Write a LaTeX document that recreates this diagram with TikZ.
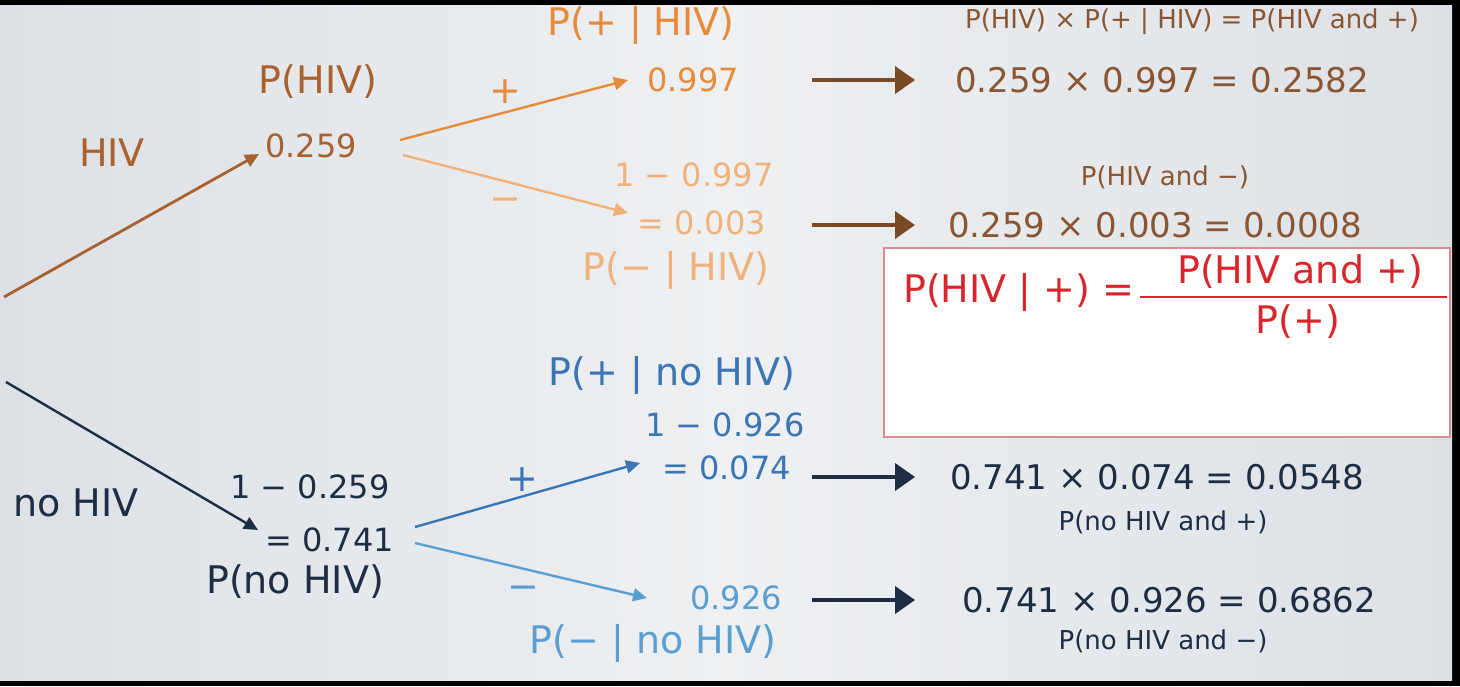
\documentclass[tikz,border=0pt]{standalone}
\usepackage{fontspec}
\setmainfont{DejaVu Sans}
\usetikzlibrary{arrows.meta,positioning}
\definecolor{hivbrown}{HTML}{A8612F}
\definecolor{plusor}{HTML}{E58B3A}
\definecolor{minusor}{HTML}{F0B27A}
\definecolor{resbrown}{HTML}{8A5632}
\definecolor{arrbrown}{HTML}{7B4A25}
\definecolor{navy}{HTML}{1D2D44}
\definecolor{plusbl}{HTML}{3A76B6}
\definecolor{minusbl}{HTML}{5B9FD0}
\definecolor{fracred}{HTML}{D9262C}
\definecolor{boxline}{HTML}{DC8C8C}
\definecolor{bgmid}{HTML}{EEF0F2}
\definecolor{bgedge}{HTML}{DDE1E6}

\begin{document}
\begin{tikzpicture}[x=1pt,y=-1pt,
        num/.style={font=\fontsize{32}{36}\selectfont,inner sep=0pt},
        resnum/.style={font=\fontsize{34}{38}\selectfont,inner sep=0pt},
        lab/.style={font=\fontsize{38}{42}\selectfont,inner sep=0pt},
        sml/.style={font=\fontsize{26}{30}\selectfont,inner sep=0pt},
        frm/.style={font=\fontsize{38}{42}\selectfont,inner sep=0pt,text=fracred},
        br/.style={-{Triangle[length=14pt,width=13pt]},line width=2.4pt},
        res/.style={-{Triangle[length=20pt,width=27pt]},line width=4pt}]
        \useasboundingbox (0,0) rectangle (1460,686);
        \fill[black] (0,0) rectangle (1460,686);
        \shade[left color=bgedge,right color=bgedge,middle color=bgmid] (0,5) rectangle (1452,680);
        % HIV branch
        \coordinate (root1) at (4,297);
        \node[lab,text=hivbrown] (hivlab) at (112,153) {HIV};
        \node[lab,text=hivbrown] (phiv) at (318,82) {P(HIV)};
        \node[num,text=hivbrown,anchor=west] (v259) at (265,146) {0.259};
        \draw[br,hivbrown,line width=2.8pt] (root1) -- ([xshift=-6pt,yshift=-8pt]v259.west);
        \node[lab,text=plusor] (ppos) at (641,25) {P(+ | HIV)};
        \node[num,text=plusor,anchor=west] (v997) at (647,80) {0.997};
        \node[lab,text=plusor] (plus1) at (505,92) {+};
        \draw[br,plusor] ([xshift=43pt,yshift=6pt]v259.east) -- ([xshift=-19pt]v997.west);
        \node[num,text=minusor] (m997) at (694,175) {1 − 0.997};
        \node[num,text=minusor,anchor=west] (v003) at (637,223) {= 0.003};
        \node[lab,text=minusor] (pneg) at (676,270) {P(− | HIV)};
        \node[lab,text=minusor] (minus1) at (505,205) {−};
        \draw[br,minusor] ([xshift=46pt,yshift=-9pt]v259.east) -- ([xshift=-9pt,yshift=10pt]v003.west);
        \node[resnum,text=resbrown,anchor=west] (r1) at (955,80) {0.259 × 0.997 = 0.2582};
        \draw[res,arrbrown,shorten <=165pt,shorten >=40pt] (v997.west |- r1.west) -- (r1.west);
        \node[sml,text=resbrown] (f1) at (1192,22) {P(HIV) × P(+ | HIV) = P(HIV and +)};
        \node[sml,text=resbrown] (f2) at (1165,177) {P(HIV and −)};
        \node[resnum,text=resbrown,anchor=west] (r2) at (948,225) {0.259 × 0.003 = 0.0008};
        \draw[res,arrbrown,shorten <=175pt,shorten >=33pt] (v003.west |- r2.west) -- (r2.west);
        % Bayes box
        \draw[boxline,line width=1.5pt,fill=white] (884,248) rectangle (1450,437);
        \node[frm,anchor=west] (cond) at (903,292) {P(HIV | +) =};
        \node[frm] (numer) at (1300,272) {P(HIV and +)};
        \node[frm] (denom) at (1298,322) {P(+)};
        \draw[fracred,line width=2.5pt] ([xshift=-37pt,yshift=-8pt]numer.south west) -- ([xshift=24pt,yshift=-8pt]numer.south east);
        % no HIV branch
        \coordinate (root2) at (6,382);
        \node[lab,text=navy] (nohiv) at (76,503) {no HIV};
        \node[num,text=navy] (m259) at (310,487) {1 − 0.259};
        \node[num,text=navy,anchor=west] (v741) at (265,540) {= 0.741};
        \node[lab,text=navy] (pnohiv) at (295,582) {P(no HIV)};
        \draw[br,navy] (root2) -- ([xshift=-7pt,yshift=10pt]v741.west);
        \node[lab,text=plusbl] (pposno) at (672,375) {P(+ | no HIV)};
        \node[num,text=plusbl] (m926) at (725,425) {1 − 0.926};
        \node[num,text=plusbl,anchor=west] (v074) at (662,468) {= 0.074};
        \node[lab,text=plusbl] (plus2) at (522,480) {+};
        \draw[br,plusbl] ([xshift=21pt,yshift=13pt]v741.east) -- ([xshift=-22pt,yshift=5pt]v074.west);
        \node[num,text=minusbl,anchor=west] (v926) at (690,598) {0.926};
        \node[lab,text=minusbl] (pnegno) at (653,643) {P(− | no HIV)};
        \node[lab,text=minusbl] (minus2) at (523,593) {−};
        \draw[br,minusbl] ([xshift=21pt,yshift=-3pt]v741.east) -- ([xshift=-43pt]v926.west);
        \node[resnum,text=navy,anchor=west] (r3) at (950,477) {0.741 × 0.074 = 0.0548};
        \draw[res,navy,shorten <=150pt,shorten >=35pt] (v074.west |- r3.west) -- (r3.west);
        \node[sml,text=navy] (f3) at (1163,522) {P(no HIV and +)};
        \node[resnum,text=navy,anchor=west] (r4) at (962,600) {0.741 × 0.926 = 0.6862};
        \draw[res,navy,shorten <=122pt,shorten >=47pt] (v926.west |- r4.west) -- (r4.west);
        \node[sml,text=navy] (f4) at (1163,641) {P(no HIV and −)};
      \end{tikzpicture}
\end{document}
